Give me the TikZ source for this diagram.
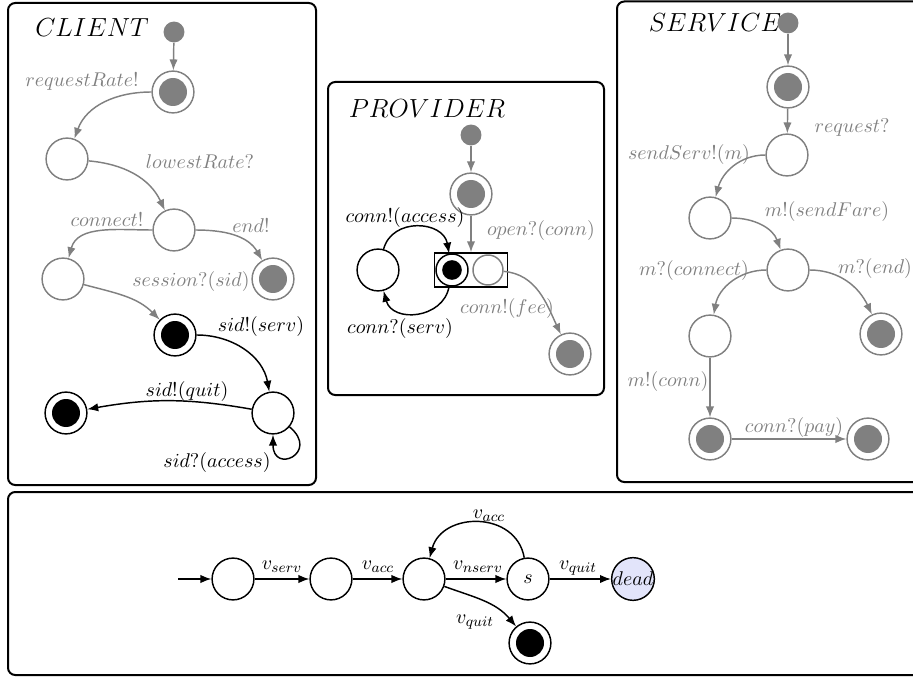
\documentclass[tikz,border=0pt]{standalone}
\usetikzlibrary{arrows.meta}
\definecolor{deadfill}{RGB}{226,228,250}
\begin{document}
\begin{tikzpicture}[x=0.55pt,y=0.55pt,>={Latex[length=6pt,width=4.6pt]},
    panel/.style={draw,line width=1.1pt,rounded corners=4pt},
    title/.style={font=\fontsize{14}{16}\selectfont},
    loc/.style={circle,draw,thick,fill=white,minimum size=23pt,inner sep=0pt},
    gloc/.style={loc,draw=gray},
    fin/.style={loc,path picture={\fill[black] (path picture bounding box.center) circle (7.7pt);}},
    gfin/.style={gloc,path picture={\fill[gray] (path picture bounding box.center) circle (7.7pt);}},
    sfin/.style={fin,minimum size=17.6pt,path picture={\fill[black] (path picture bounding box.center) circle (5.4pt);}},
    sloc/.style={gloc,minimum size=16.5pt},
    dot/.style={circle,fill=gray,minimum size=11.5pt,inner sep=0pt},
    tr/.style={->,thick},
    gtr/.style={tr,gray},
    lab/.style={inner sep=1pt,font=\fontsize{11}{13}\selectfont},
    glab/.style={lab,text=gray}]
    \useasboundingbox (0,0) rectangle (913,-677);

    % CLIENT
    \draw[panel] (8,-3) rectangle (316,-485);
    \node[title] (ctitle) at (92,-28) {$CLIENT$};
    \node[dot] (ci) at (174,-32) {};
    \node[gfin] (c0) at (173,-92) {};
    \node[gloc] (c1) at (67,-159) {};
    \node[gloc] (c2) at (174,-230) {};
    \node[gloc] (c3) at (63,-279) {};
    \node[gfin] (c4) at (273,-279) {};
    \node[fin] (c5) at (175,-335) {};
    \node[loc] (c6) at (273,-413) {};
    \node[fin] (c7) at (66,-413) {};

    \draw[gtr] (ci) -- (c0);
    \draw[gtr] (c0) to[out=180,in=70] (c1);
    \draw[gtr] (c1) to[out=-5,in=115] (c2);
    \draw[gtr] (c2) to[out=180,in=75] (c3);
    \draw[gtr] (c2) to[out=0,in=120] (c4);
    \draw[gtr] (c3) to[out=-15,in=135] (c5);
    \draw[tr] (c5) to[out=0,in=100] (c6);
    \draw[tr] (c6) to[bend right=10] (c7);
    \draw[tr] (c6) to[out=-40,in=-90,min distance=22pt] (c6);

    \node[glab] (lc0) at (82,-82) {$requestRate!$};
    \node[glab] (lc1) at (200,-162) {$lowestRate?$};
    \node[glab] (lc2) at (107,-220) {$connect!$};
    \node[glab] (lc3) at (251,-226) {$end!$};
    \node[glab] (lc4) at (191,-282) {$session?(sid)$};
    \node[lab] (lc5) at (261,-327) {$sid!(serv)$};
    \node[lab] (lc6) at (187,-392) {$sid!(quit)$};
    \node[lab] (lc7) at (217,-463) {$sid?(access)$};

    % PROVIDER
    \draw[panel] (328,-82) rectangle (604,-395);
    \node[title] (ptitle) at (427,-109) {$PROVIDER$};
    \node[dot] (pi) at (471,-135) {};
    \node[gfin] (p0) at (471,-194) {};
    \node[draw,thick,minimum width=40pt,minimum height=18.7pt,inner sep=0pt] (pbox) at (471,-270) {};
    \node[sfin] (pb) at (452,-270) {};
    \node[sloc] (pg) at (488,-270) {};
    \node[loc] (pl) at (378,-270) {};
    \node[gfin] (pf) at (570,-354) {};

    \draw[gtr] (pi) -- (p0);
    \draw[gtr] (p0) -- (pbox);
    \draw[tr] (pl) to[out=75,in=100,looseness=1.3] (pb);
    \draw[tr] (pb) to[out=-100,in=-75,looseness=1.3] (pl);
    \draw[gtr] (pg) to[out=-5,in=115] (pf);

    \node[lab] (lp0) at (405,-218) {$conn!(access)$};
    \node[glab] (lp1) at (541,-231) {$open?(conn)$};
    \node[lab] (lp2) at (400,-329) {$conn?(serv)$};
    \node[glab] (lp3) at (507,-309) {$conn!(fee)$};

    % SERVICE
    \draw[panel] (617,-1.5) rectangle (930,-482);
    \node[title] (stitle) at (715,-23) {$SERVICE$};
    \node[dot] (si) at (788,-23) {};
    \node[gfin] (s0) at (788,-87) {};
    \node[gloc] (s1) at (787,-155) {};
    \node[gloc] (s2) at (710,-218) {};
    \node[gloc] (s3) at (788,-270) {};
    \node[gloc] (s4) at (710,-336) {};
    \node[gfin] (s5) at (881,-334) {};
    \node[gfin] (s6) at (710,-439) {};
    \node[gfin] (s7) at (868,-439) {};

    \draw[gtr] (si) -- (s0);
    \draw[gtr] (s0) -- (s1);
    \draw[gtr] (s1) to[out=180,in=75] (s2);
    \draw[gtr] (s2) to[out=0,in=110] (s3);
    \draw[gtr] (s3) to[out=180,in=80] (s4);
    \draw[gtr] (s3) to[out=0,in=115] (s5);
    \draw[gtr] (s4) -- (s6);
    \draw[gtr] (s6) -- (s7);

    \node[glab] (ls0) at (852,-128) {$request?$};
    \node[glab] (ls1) at (689,-155) {$sendServ!(m)$};
    \node[glab] (ls2) at (827,-212) {$m!(sendFare)$};
    \node[glab] (ls3) at (694,-271) {$m?(connect)$};
    \node[glab] (ls4) at (875,-269) {$m?(end)$};
    \node[glab] (ls5) at (668,-382) {$m!(conn)$};
    \node[glab] (ls6) at (794,-428) {$conn?(pay)$};

    % product automaton
    \draw[panel] (8,-492) rectangle (930,-675);
    \coordinate (qin) at (178,-579);
    \node[loc] (q0) at (233,-579) {};
    \node[loc] (q1) at (331,-579) {};
    \node[loc] (q2) at (424,-579) {};
    \node[loc,font=\fontsize{11}{13}\selectfont] (qs) at (528,-579) {$s$};
    \node[loc,fill=deadfill,font=\fontsize{11}{13}\selectfont] (qd) at (633,-579) {$dead$};
    \node[fin] (qq) at (530,-643) {};

    \draw[tr] (qin) -- (q0);
    \draw[tr] (q0) -- (q1);
    \draw[tr] (q1) -- (q2);
    \draw[tr] (q2) -- (qs);
    \draw[tr] (qs) -- (qd);
    \draw[tr] (qs) to[out=100,in=75,looseness=1.3] (q2);
    \draw[tr] (q2) to[out=-20,in=130] (qq);

    \node[lab] (lq0) at (282,-567) {$v_{serv}$};
    \node[lab] (lq1) at (378,-567) {$v_{acc}$};
    \node[lab] (lq2) at (478,-567) {$v_{nserv}$};
    \node[lab] (lq3) at (578,-568) {$v_{quit}$};
    \node[lab] (lq4) at (489,-516) {$v_{acc}$};
    \node[lab] (lq5) at (475,-622) {$v_{quit}$};
\end{tikzpicture}
\end{document}
